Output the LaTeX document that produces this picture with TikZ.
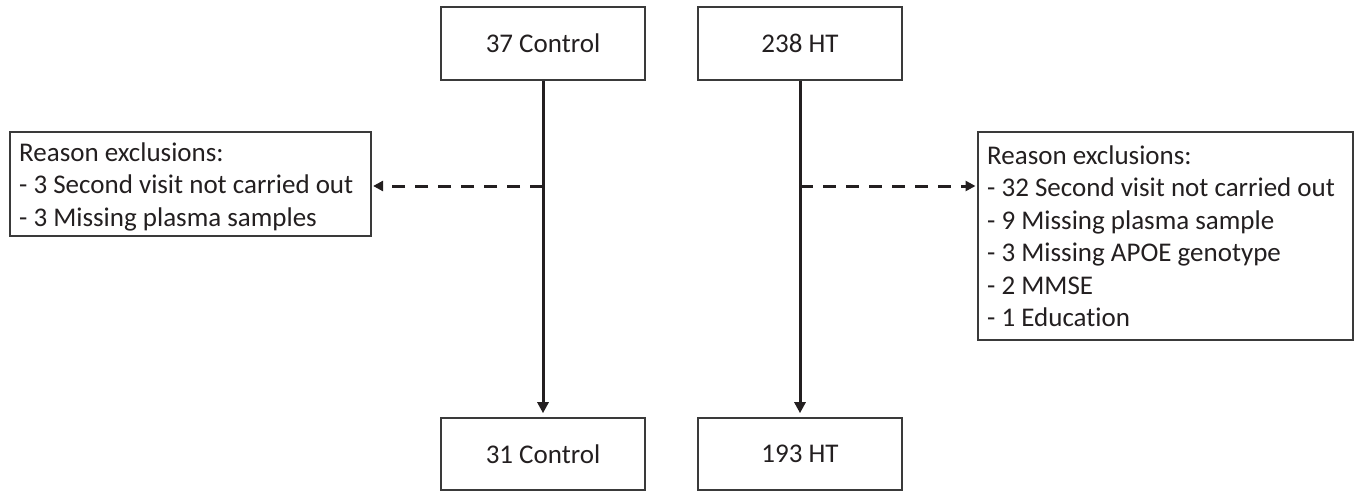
\documentclass[tikz,border=0pt]{standalone}
\usepackage{fontspec}
\setmainfont{Carlito}[Ligatures=NoCommon]
\usetikzlibrary{arrows.meta}
\definecolor{ink}{HTML}{231F20}
\definecolor{frame}{HTML}{3A3A3A}
\tikzset{
  stagebox/.style={draw=frame, line width=1.6pt, minimum width=204pt,
    minimum height=73pt, inner sep=0pt, text=ink,
    font=\fontsize{27}{32.5}\selectfont},
  exclbox/.style={draw=frame, line width=1.6pt, anchor=north west,
    inner sep=0pt},
  excltext/.style={anchor=west, inner sep=0pt, align=left, text=ink,
    font=\fontsize{27}{32.5}\selectfont},
  flow/.style={draw=ink, line width=3pt,
    -{Triangle[length=11pt,width=11pt]}, shorten >=4pt},
  drop/.style={draw=ink, line width=3pt, dash pattern=on 13pt off 10pt,
    -{Triangle[length=10pt,width=10pt]}, shorten >=1.5pt}
}
\begin{document}
\begin{tikzpicture}[x=1pt,y=-1pt]
  \useasboundingbox (0,0) rectangle (1354,491);

  % cohort boxes
  \node[stagebox] (c0) at (543,43.5) {37 Control};
  \node[stagebox] (h0) at (800,43.5) {238 HT};
  \node[stagebox, minimum height=72pt] (c1) at (543,454) {31 Control};
  \node[stagebox, minimum height=72pt] (h1) at (800,454) {193 HT};

  % exclusion boxes and their lists
  \node[exclbox, minimum width=361pt, minimum height=104pt] (exL) at (9,131) {};
  \node[exclbox, minimum width=375pt, minimum height=208pt] (exR) at (977,131) {};
  \node[excltext] (exLt) at ([xshift=10pt,yshift=-3pt]exL.west)
    {Reason exclusions:\\
     - 3 Second visit not carried out\\
     - 3 Missing plasma samples};
  \node[excltext] (exRt) at ([xshift=10pt,yshift=-0.5pt]exR.west)
    {Reason exclusions:\\
     - 32 Second visit not carried out\\
     - 9 Missing plasma sample\\
     - 3 Missing APOE genotype\\
     - 2 MMSE\\
     - 1 Education};

  % branch points on the main lines
  \coordinate (jL) at (543,186);
  \coordinate (jR) at (800,186);

  % main flow
  \draw[flow] (c0.south) -- (c1.north);
  \draw[flow] (h0.south) -- (h1.north);

  % exclusions
  \draw[drop] (jL) -- (exL.east |- jL);
  \draw[drop] (jR) -- (exR.west |- jR);
\end{tikzpicture}
\end{document}
